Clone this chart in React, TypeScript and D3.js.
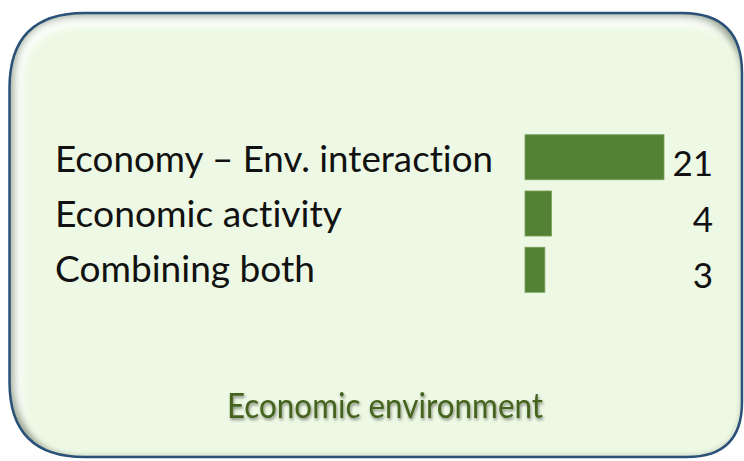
import React from "react";
import * as d3 from "d3";

const categories = ["Economy – Env. interaction", "Economic activity", "Combining both"];
const values = [21, 4, 3];
const title = "Economic environment";

const W = 744;
const H = 461;

function roundedPath(x0: number, y0: number, x1: number, y1: number, tl: number, tr: number, br: number, bl: number) {
  const p = d3.path();
  p.moveTo(x0 + tl, y0);
  p.lineTo(x1 - tr, y0);
  p.quadraticCurveTo(x1, y0, x1, y0 + tr);
  p.lineTo(x1, y1 - br);
  p.quadraticCurveTo(x1, y1, x1 - br, y1);
  p.lineTo(x0 + bl, y1);
  p.quadraticCurveTo(x0, y1, x0, y1 - bl);
  p.lineTo(x0, y0 + tl);
  p.quadraticCurveTo(x0, y0, x0 + tl, y0);
  p.closePath();
  return p.toString();
}

const noLig = { fontVariantLigatures: "none", fontFeatureSettings: '"liga" 0, "clig" 0' } as React.CSSProperties;

export default function App() {
  const x = d3.scaleLinear().domain([0, 21]).range([525, 664]);
  const yBar = d3.scaleBand<string>().domain(categories).range([134.7, 292.3]).paddingInner(0.2).paddingOuter(0);
  const yLabel = d3.scalePoint<string>().domain(categories).range([172, 282]);
  const labelWidths = [438, 287, 260];

  const outer = roundedPath(9.5, 13, 742, 457, 75, 60, 55, 75);

  return (
    <svg width={W} height={H} style={{ position: "absolute", left: 0, top: 0 }}>
      <defs>
        <clipPath id="boxClip">
          <path d={outer} />
        </clipPath>
        <filter id="blur6" x="-10%" y="-10%" width="120%" height="120%">
          <feGaussianBlur stdDeviation="5" />
        </filter>
        <filter id="blur3" x="-10%" y="-10%" width="120%" height="120%">
          <feGaussianBlur stdDeviation="3" />
        </filter>
        <filter id="txtShadow" x="-10%" y="-30%" width="120%" height="160%">
          <feGaussianBlur in="SourceAlpha" stdDeviation="1.5" />
          <feOffset dx="1" dy="2" result="ob" />
          <feComponentTransfer>
            <feFuncA type="linear" slope="0.45" />
          </feComponentTransfer>
          <feMerge>
            <feMergeNode />
            <feMergeNode in="SourceGraphic" />
          </feMerge>
        </filter>
      </defs>
      <rect x={0} y={0} width={W} height={H} fill="#ffffff" />
      <path d={outer} fill="#edf9e4" />
      <g clipPath="url(#boxClip)">
        <path d={outer} fill="none" stroke="#ffffff" strokeWidth={30} filter="url(#blur6)" opacity={0.9} />
        <path d={outer} fill="none" stroke="#7f8f76" strokeWidth={12} filter="url(#blur6)" transform="translate(-3,-4)" opacity={0.9} />
        <path d={roundedPath(24, 30, 742, 457, 60, 50, 55, 60)} fill="#edf9e4" filter="url(#blur3)" />
      </g>
      <path d={outer} fill="none" stroke="#2a5178" strokeWidth={2.5} />

      {categories.map((c, i) => (
        <text
          key={"l" + c}
          x={55}
          y={yLabel(c)}
          fontFamily="Lato, 'Open Sans', sans-serif"
          fontSize={36}
          fill="#111111"
          textLength={labelWidths[i]}
          lengthAdjust="spacingAndGlyphs"
          style={noLig}
        >
          {c}
        </text>
      ))}

      {categories.map((c, i) => (
        <rect
          key={"b" + c}
          x={x(0)}
          y={yBar(c)}
          width={x(values[i]) - x(0)}
          height={yBar.bandwidth()}
          fill="#548235"
          stroke="#7aa05a"
          strokeWidth={0.8}
        />
      ))}

      {categories.map((c, i) => (
        <text
          key={"v" + c}
          x={713}
          y={(yBar(c) as number) + yBar.bandwidth() - 4}
          textAnchor="end"
          fontFamily="Lato, 'Open Sans', sans-serif"
          fontSize={35}
          fill="#111111"
        >
          {values[i]}
        </text>
      ))}

      <text
        x={227}
        y={418}
        fontFamily="Lato, 'Open Sans', sans-serif"
        fontSize={35}
        fill="#44631f"
        textLength={316}
        lengthAdjust="spacingAndGlyphs"
        filter="url(#txtShadow)"
        style={noLig}
      >
        {title}
      </text>
    </svg>
  );
}
